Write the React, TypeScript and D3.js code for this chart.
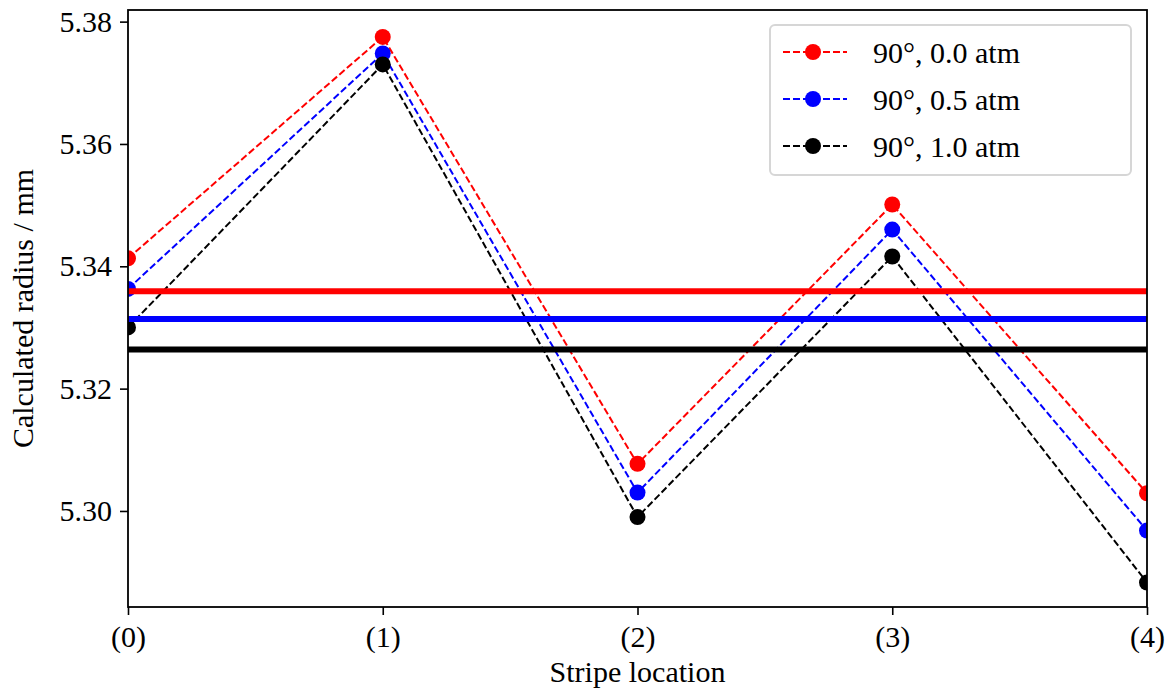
import React, { useEffect, useRef } from 'react';
import * as d3 from 'd3';

// stripe positions and tick labels
const stripes = [0, 1, 2, 3, 4];
const stripeLabels = ['(0)', '(1)', '(2)', '(3)', '(4)'];
const yTicks = [5.30, 5.32, 5.34, 5.36, 5.38];

// calculated radii (mm)
const radius00 = [5.3413, 5.3775, 5.3077, 5.3501, 5.3029];
const radius05 = [5.3363, 5.3748, 5.3030, 5.3460, 5.2968];
const radius10 = [5.3300, 5.3730, 5.2990, 5.3416, 5.2883];

const seriesNames = ['90°, 0.0 atm', '90°, 0.5 atm', '90°, 1.0 atm'];
const seriesColors = ['#ff0000', '#0000ff', '#000000'];

const W = 1174, H = 690;
const margin = { left: 128, right: 27, top: 10, bottom: 83 };
const FONT = '"Liberation Serif", "Times New Roman", serif';
const FS = 30;

export default function App() {
  const svgRef = useRef<SVGSVGElement>(null);

  useEffect(() => {
    document.body.style.margin = '0';
    const svg = d3.select(svgRef.current);
    svg.selectAll('*').remove();

    const series = [radius00, radius05, radius10];
    const pw = W - margin.left - margin.right;
    const ph = H - margin.top - margin.bottom;

    const x = d3.scaleLinear().domain([0, 4]).range([0, pw]);
    const y = d3.scaleLinear().domain([5.2843, 5.3819]).range([ph, 0]);

    svg.append('defs').append('clipPath').attr('id', 'plotclip')
      .append('rect').attr('width', pw).attr('height', ph);

    const g = svg.append('g').attr('transform', `translate(${margin.left},${margin.top})`);
    const plot = g.append('g').attr('clip-path', 'url(#plotclip)');

    const line = d3.line<number>().x((_, i) => x(stripes[i])).y(d => y(d));

    series.forEach((vals, k) => {
      plot.append('path')
        .attr('d', line(vals))
        .attr('fill', 'none')
        .attr('stroke', seriesColors[k])
        .attr('stroke-width', 2)
        .attr('stroke-dasharray', '7,3');
      plot.selectAll(null).data(vals).enter().append('circle')
        .attr('cx', (_, i) => x(stripes[i]))
        .attr('cy', d => y(d))
        .attr('r', 8)
        .attr('fill', seriesColors[k]);
    });

    // mean lines
    series.forEach((vals, k) => {
      const m = d3.mean(vals) as number;
      plot.append('line')
        .attr('x1', 0).attr('x2', pw)
        .attr('y1', y(m)).attr('y2', y(m))
        .attr('stroke', seriesColors[k])
        .attr('stroke-width', 6);
    });

    // frame
    g.append('rect').attr('width', pw).attr('height', ph)
      .attr('fill', 'none').attr('stroke', '#000').attr('stroke-width', 1.8);

    // x axis
    const xAxis = g.append('g').attr('transform', `translate(0,${ph})`)
      .call(d3.axisBottom(x).tickValues(stripes).tickSize(8).tickPadding(5)
        .tickFormat((_, i) => stripeLabels[i]));
    // y axis
    const yAxis = g.append('g')
      .call(d3.axisLeft(y).tickValues(yTicks).tickSize(8).tickPadding(8)
        .tickFormat(d3.format('.2f')));
    [xAxis, yAxis].forEach(a => {
      a.select('.domain').remove();
      a.selectAll('line').attr('stroke', '#000').attr('stroke-width', 1.6);
      a.selectAll('text').attr('font-family', FONT).attr('font-size', FS).attr('fill', '#000');
    });
    xAxis.selectAll('text').attr('dy', '0.9em');

    svg.append('text')
      .attr('x', margin.left + pw / 2).attr('y', 682)
      .attr('text-anchor', 'middle')
      .attr('font-family', FONT).attr('font-size', FS)
      .text('Stripe location');
    svg.append('text')
      .attr('transform', `translate(33,${margin.top + ph / 2}) rotate(-90)`)
      .attr('text-anchor', 'middle')
      .attr('font-family', FONT).attr('font-size', FS)
      .text('Calculated radius / mm');

    // legend
    const lg = svg.append('g').attr('transform', 'translate(770,25)');
    lg.append('rect').attr('width', 361).attr('height', 150).attr('rx', 5)
      .attr('fill', 'rgba(255,255,255,0.8)').attr('stroke', '#d6d6d6').attr('stroke-width', 2);
    seriesNames.forEach((name, k) => {
      const cy = 27 + k * 47;
      lg.append('line').attr('x1', 13).attr('x2', 77).attr('y1', cy).attr('y2', cy)
        .attr('stroke', seriesColors[k]).attr('stroke-width', 2).attr('stroke-dasharray', '7,3');
      lg.append('circle').attr('cx', 43).attr('cy', cy).attr('r', 8).attr('fill', seriesColors[k]);
      lg.append('text').attr('x', 103).attr('y', cy).attr('dy', '0.35em')
        .attr('font-family', FONT).attr('font-size', FS).text(name);
    });
  }, []);

  return <svg ref={svgRef} width={W} height={H} style={{ display: 'block', background: '#fff' }} />;
}
